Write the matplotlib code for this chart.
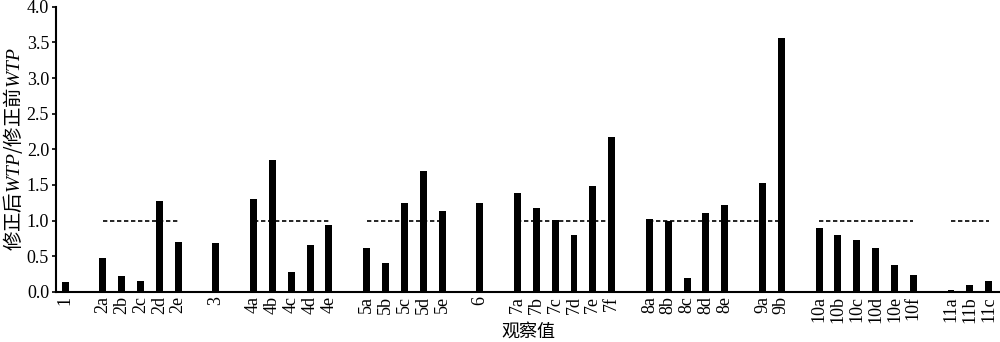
import numpy as np
import matplotlib
matplotlib.use("Agg")
import matplotlib.pyplot as plt
from matplotlib.ticker import FormatStrFormatter

plt.rcParams['font.family'] = ['Liberation Serif', 'Noto Sans CJK SC', 'DejaVu Sans']
plt.rcParams['mathtext.fontset'] = 'custom'
plt.rcParams['mathtext.it'] = 'Liberation Serif:italic'
plt.rcParams['mathtext.rm'] = 'Liberation Serif'

# Categories ("" = empty separator slot between groups)
categories = ["1", "",
              "2a", "2b", "2c", "2d", "2e", "",
              "3", "",
              "4a", "4b", "4c", "4d", "4e", "",
              "5a", "5b", "5c", "5d", "5e", "",
              "6", "",
              "7a", "7b", "7c", "7d", "7e", "7f", "",
              "8a", "8b", "8c", "8d", "8e", "",
              "9a", "9b", "",
              "10a", "10b", "10c", "10d", "10e", "10f", "",
              "11a", "11b", "11c"]
values = [0.13, np.nan,
          0.47, 0.22, 0.15, 1.27, 0.70, np.nan,
          0.68, np.nan,
          1.30, 1.85, 0.27, 0.66, 0.93, np.nan,
          0.61, 0.40, 1.25, 1.69, 1.14, np.nan,
          1.25, np.nan,
          1.39, 1.18, 1.01, 0.79, 1.48, 2.17, np.nan,
          1.02, 1.00, 0.19, 1.11, 1.22, np.nan,
          1.52, 3.56, np.nan,
          0.90, 0.79, 0.72, 0.61, 0.38, 0.24, np.nan,
          0.03, 0.10, 0.15]
# Reference lines at 1.0: (first category, last category)
ref_spans = [("2a", "2e"), ("4a", "4e"), ("5a", "5e"), ("7a", "7f"),
             ("8a", "9b"), ("10a", "10f"), ("11a", "11c")]
ref_value = 1.0
yticks = [0.0, 0.5, 1.0, 1.5, 2.0, 2.5, 3.0, 3.5, 4.0]

fig = plt.figure(figsize=(10, 3.42), dpi=100)
ax = fig.add_axes([0.056, 0.147, 0.944, 0.833])

x = np.arange(len(categories))
vals = np.array(values, dtype=float)
mask = ~np.isnan(vals)
ax.bar(x[mask], vals[mask], width=0.37, color='black')

for a, b in ref_spans:
    ia, ib = categories.index(a), categories.index(b)
    ax.plot([x[ia], x[ib]], [ref_value, ref_value], color='black',
            linestyle=(0, (2.6, 1.6)), linewidth=1.2)

ax.set_xlim(-0.48, len(categories) - 0.4)
ax.set_ylim(0, 4.0)
ax.set_yticks(yticks)
ax.yaxis.set_major_formatter(FormatStrFormatter('%.1f'))
ax.set_xticks(x[mask])
ax.set_xticklabels([c for c, m in zip(categories, mask) if m], rotation=90)

ax.tick_params(axis='x', length=0, pad=3, labelsize=13)
ax.tick_params(axis='y', direction='out', length=3, width=1.2, pad=2, labelsize=13)

for s in ['top', 'right']:
    ax.spines[s].set_visible(False)
for s in ['left', 'bottom']:
    ax.spines[s].set_linewidth(1.5)

ax.set_ylabel(r'修正后$\mathit{WTP}$/修正前$\mathit{WTP}$', fontsize=14,
              family=['Noto Sans CJK SC', 'Liberation Serif'], labelpad=1)
ax.set_xlabel('观察值', fontsize=13, family=['Noto Sans CJK SC'], labelpad=0)

fig.savefig('out.png', dpi=100)
